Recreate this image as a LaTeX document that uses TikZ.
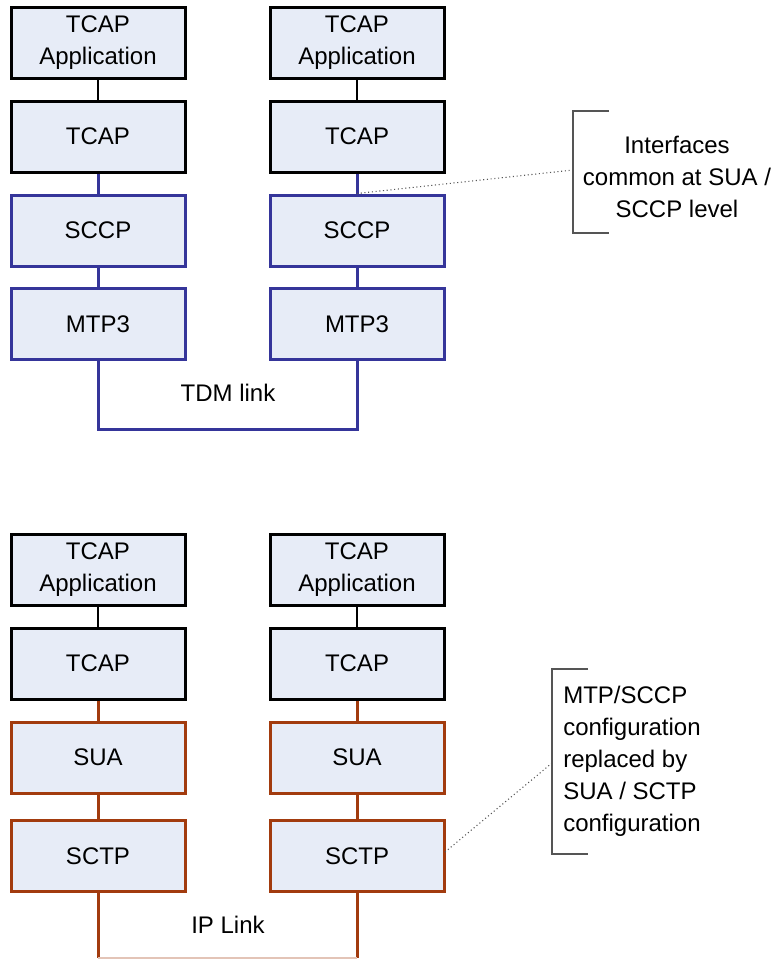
\documentclass[tikz,border=0pt]{standalone}
\usepackage{fontspec}
\setmainfont{Liberation Sans}
\definecolor{boxfill}{HTML}{E7ECF7}
\definecolor{sccpblue}{HTML}{35359A}
\definecolor{suabrown}{HTML}{A23B0E}
\definecolor{notegray}{HTML}{555555}
\tikzset{
  layer/.style={draw=black, fill=boxfill, line width=2.25pt, minimum width=130.5pt, minimum height=53.25pt, inner sep=0pt, align=center, font=\fontsize{18}{24}\selectfont},
  bluelayer/.style={layer, draw=sccpblue},
  brownlayer/.style={layer, draw=suabrown},
  thinlink/.style={draw=black, line width=1.1pt},
  bluelink/.style={draw=sccpblue, line width=2.25pt},
  brownlink/.style={draw=suabrown, line width=2.25pt},
  lbl/.style={font=\fontsize{18}{24}\selectfont, inner sep=0pt},
  notetext/.style={font=\fontsize{18}{24}\selectfont, inner sep=0pt},
  bracketline/.style={draw=notegray, line width=0.8pt},
  leader/.style={draw=notegray, line width=0.8pt, dotted}
}
\begin{document}
\begin{tikzpicture}[x=0.75pt, y=-0.75pt]
\useasboundingbox (0,0) rectangle (781,960);
% ---------- top stack ----------
\node[layer] (appA) at (98,42.5) {TCAP\\Application};
\node[layer] (appB) at (357,42.5) {TCAP\\Application};
\node[layer] (tcapA) at (98,136.5) {TCAP};
\node[layer] (tcapB) at (357,136.5) {TCAP};
\node[bluelayer] (sccpA) at (98,230.5) {SCCP};
\node[bluelayer] (sccpB) at (357,230.5) {SCCP};
\node[bluelayer] (mtpA) at (98,324) {MTP3};
\node[bluelayer] (mtpB) at (357,324) {MTP3};
\draw[thinlink] (appA) -- (tcapA);
\draw[thinlink] (appB) -- (tcapB);
\draw[bluelink] (tcapA) -- (sccpA);
\draw[bluelink] (tcapB) -- (sccpB);
\draw[bluelink] (sccpA) -- (mtpA);
\draw[bluelink] (sccpB) -- (mtpB);
\draw[bluelink] (mtpA.south) |- (357,429) -- (mtpB.south);
\node[lbl] (tdm) at (228,393) {TDM link};
% note 1
\node[notetext, align=center] (note1) at (677,177) {Interfaces\\common at SUA /\\SCCP level};
\coordinate (b1t) at (573,111);
\coordinate (b1b) at (573,233);
\draw[bracketline] (609,111) -- (b1t) -- (b1b) -- (609,233);
\draw[leader] (sccpB.north) -- (573,170);
% ---------- bottom stack ----------
\node[layer] (appC) at (98,570) {TCAP\\Application};
\node[layer] (appD) at (357,570) {TCAP\\Application};
\node[layer] (tcapC) at (98,663.5) {TCAP};
\node[layer] (tcapD) at (357,663.5) {TCAP};
\node[brownlayer] (suaC) at (98,757.5) {SUA};
\node[brownlayer] (suaD) at (357,757.5) {SUA};
\node[brownlayer] (sctpC) at (98,856) {SCTP};
\node[brownlayer] (sctpD) at (357,856) {SCTP};
\draw[thinlink] (appC) -- (tcapC);
\draw[thinlink] (appD) -- (tcapD);
\draw[brownlink] (tcapC) -- (suaC);
\draw[brownlink] (tcapD) -- (suaD);
\draw[brownlink] (suaC) -- (sctpC);
\draw[brownlink] (suaD) -- (sctpD);
\draw[brownlink] (sctpC.south) -- (98,958);
\draw[brownlink] (sctpD.south) -- (357,958);
\draw[draw=suabrown!30, line width=1pt] (98,958) -- (357,958);
\node[lbl] (ip) at (228,925) {IP Link};
% note 2
\node[notetext, align=left, anchor=west] (note2) at (563,761) {MTP/SCCP\\configuration\\replaced by\\SUA / SCTP\\configuration};
\coordinate (b2t) at (552,669);
\coordinate (b2b) at (552,854);
\draw[bracketline] (588,669) -- (b2t) -- (b2b) -- (588,854);
\draw[leader] (445,852) -- (552,763);
\end{tikzpicture}
\end{document}
